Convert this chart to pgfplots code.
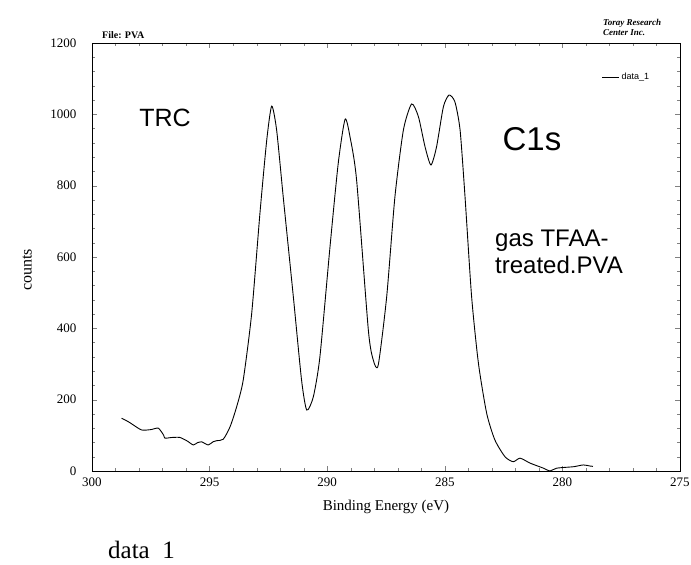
\documentclass[border=0pt]{standalone}
\usepackage{fontspec}
\setmainfont{Liberation Serif}
\newfontfamily\arial{Liberation Sans}
\usepackage{pgfplots}
\pgfplotsset{compat=1.18}

\begin{document}
\begin{tikzpicture}
% page frame in pixel-like units, axis box lower left at origin
\path[use as bounding box] (-92pt,-94pt) rectangle (599pt,471pt);

\begin{axis}[
  at={(0,0)}, anchor=south west,
  scale only axis,
  width=588pt, height=428pt,
  xmin=275, xmax=300, x dir=reverse,
  ymin=0, ymax=1200,
  xtick={275,280,...,300},
  ytick={0,200,...,1200},
  minor x tick num=4,
  minor y tick num=4,
  tick align=inside,
  major tick length=5pt,
  minor tick length=3pt,
  axis line style={line width=0.9pt},
  /pgf/number format/assume math mode=true,
  /pgf/number format/1000 sep={},
  tick label style={font=\fontsize{13}{13}\selectfont},
  yticklabel style={xshift=-12pt},
  xticklabel style={yshift=-3pt},
  xlabel={Binding Energy (eV)},
  ylabel={counts},
  every axis x label/.style={at={(axis description cs:0.5,-0.085)}, anchor=center, font=\fontsize{15}{15}\selectfont},
  every axis y label/.style={at={(axis description cs:-0.11,0.47)}, rotate=90, anchor=center, font=\fontsize{16}{16}\selectfont},
  legend style={draw=none, fill=none, font=\arial\fontsize{9}{9}\selectfont,
    at={(axis description cs:0.862,0.92)}, anchor=west},
  legend image post style={line width=0.6pt},
]
\addplot[black, line width=0.9pt, smooth, tension=0.4] coordinates {
(298.74,148) (298.45,138) (298.24,129) (297.89,115) (297.50,116)
(297.18,120) (296.95,100) (296.90,92) (296.60,94) (296.26,94)
(295.95,84) (295.69,73) (295.50,80) (295.34,82) (295.06,73)
(294.85,82) (294.70,85) (294.42,89) (294.13,124) (293.85,180)
(293.57,255) (293.21,442) (292.86,722) (292.57,928) (292.36,1023)
(292.15,956) (291.87,769) (291.44,489) (291.09,255) (290.87,171)
(290.59,208) (290.31,320) (289.88,629) (289.53,863) (289.24,986)
(289.03,937) (288.75,816) (288.25,395) (288.04,311) (287.83,297)
(287.47,489) (287.12,769) (286.76,956) (286.41,1029) (286.12,993)
(285.84,909) (285.59,858) (285.35,909) (285.06,1021) (284.82,1054)
(284.57,1035) (284.35,956) (284.14,769) (283.86,489) (283.57,302)
(283.22,162) (282.87,87) (282.44,40) (282.09,26) (281.80,36)
(281.37,22) (280.81,8) (280.53,0) (280.24,8) (279.53,12)
(279.11,17) (278.83,14) (278.70,13)
};
\addlegendentry{data\_1}
\end{axis}

% annotations
\node[font=\arial\fontsize{25}{25}\selectfont] at (73pt,353pt) {TRC};
\node[font=\arial\fontsize{33}{33}\selectfont] at (440pt,332pt) {C1s};
\node[font=\arial\fontsize{24}{27}\selectfont, align=left, anchor=west, inner sep=0pt]
  at (403pt,219pt) {gas TFAA-\\treated.PVA};
\node[font=\bfseries\fontsize{10}{10}\selectfont, anchor=west, inner sep=0pt] at (10pt,436pt) {File: PVA};
\node[font=\bfseries\itshape\fontsize{9}{10}\selectfont, align=left, anchor=west, inner sep=0pt]
  at (511pt,444pt) {Toray Research\\Center Inc.};
\node[font=\fontsize{25}{25}\selectfont, anchor=base west, inner sep=0pt] at (16pt,-87pt) {data\ \ 1};
\end{tikzpicture}
\end{document}
